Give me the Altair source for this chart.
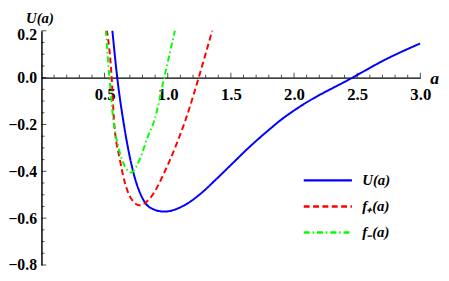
import altair as alt
import pandas as pd

# --- data ---
a_U = [0.561, 0.600, 0.647, 0.725, 0.803, 0.867, 0.972, 1.128, 1.257, 1.387, 1.517, 1.647, 1.777, 1.907, 2.037, 2.463, 2.726, 3.0]
U_vals = [0.204, 0.0, -0.181, -0.399, -0.518, -0.557, -0.572, -0.546, -0.497, -0.432, -0.364, -0.296, -0.234, -0.176, -0.127, 0.0, 0.078, 0.146]

a_fp = [0.517, 0.556, 0.574, 0.621, 0.660, 0.712, 0.777, 0.867, 0.984, 1.062, 1.140, 1.245, 1.354]
fp_vals = [0.204, 0.0, -0.181, -0.350, -0.447, -0.518, -0.545, -0.510, -0.392, -0.294, -0.182, 0.0, 0.204]

a_fm = [0.509, 0.538, 0.569, 0.608, 0.647, 0.710, 0.777, 0.842, 0.894, 0.972, 1.058]
fm_vals = [0.204, 0.0, -0.181, -0.294, -0.363, -0.405, -0.350, -0.252, -0.182, 0.0, 0.204]

series_names = ["U(a)", "f\u208A(a)", "f\u208B(a)"]
series_colors = ["#0000ff", "#ff0000", "#00ff00"]
series_dashes = [[1, 0], [6, 3.5], [6, 3, 1.5, 3]]

x_major = [0.5, 1.0, 1.5, 2.0, 2.5, 3.0]
x_minor = [0.1, 0.2, 0.3, 0.4, 0.6, 0.7, 0.8, 0.9, 1.1, 1.2, 1.3, 1.4, 1.6, 1.7, 1.8, 1.9,
           2.1, 2.2, 2.3, 2.4, 2.6, 2.7, 2.8, 2.9]
y_major = [-0.8, -0.6, -0.4, -0.2, 0.0, 0.2]
y_minor = [-0.75, -0.7, -0.65, -0.55, -0.5, -0.45, -0.35, -0.3, -0.25, -0.15, -0.1, -0.05,
           0.05, 0.1, 0.15]

x_domain = [0.0, 3.0]
y_domain = [-0.8, 0.2]

W, H = 385, 238

rows = []
for name, xs, ys in zip(series_names, [a_U, a_fp, a_fm], [U_vals, fp_vals, fm_vals]):
    for i, (x, y) in enumerate(zip(xs, ys)):
        rows.append({"a": x, "U": y, "series": name, "order": i})
df = pd.DataFrame(rows)

FONT = "Liberation Serif, Times New Roman, serif"
x_axis_offset = -H * (0 - y_domain[0]) / (y_domain[1] - y_domain[0])


def xenc():
    return alt.X(
        "a:Q",
        scale=alt.Scale(domain=x_domain, nice=False, zero=False),
        axis=alt.Axis(
            values=x_major, format=".1f", grid=False, ticks=False, tickSize=0,
            offset=x_axis_offset, domainColor="black", domainWidth=1.5,
            labelFont=FONT, labelFontWeight="bold", labelFontSize=17, labelColor="black",
            labelPadding=9, labelFlush=False,
            title="a", titleFont=FONT, titleFontStyle="italic", titleFontWeight="bold",
            titleFontSize=18, titleX=399, titleY=6, titleAlign="center",
            titleBaseline="alphabetic", titleColor="black",
        ),
    )


def yenc():
    return alt.Y(
        "U:Q",
        scale=alt.Scale(domain=y_domain, nice=False, zero=False),
        axis=alt.Axis(
            values=y_major, format=".1f", grid=False, ticks=False, tickSize=0,
            domainColor="black", domainWidth=1.5,
            labelFont=FONT, labelFontWeight="bold", labelFontSize=16, labelColor="black",
            labelPadding=5, labelFlush=False,
            labelOffset={"condition": {"test": "datum.value > 0.15", "value": 4}, "value": 0},
            title="U(a)", titleFont=FONT, titleFontStyle="italic", titleFontWeight="bold",
            titleFontSize=15, titleAngle=0, titleX=-2, titleY=-13.5, titleAlign="center",
            titleBaseline="middle", titleColor="black",
        ),
    )


legend = alt.Legend(
    title=None, orient="none", legendX=265, legendY=142, padding=0,
    symbolType="stroke", symbolSize=2401, symbolStrokeWidth=2.5,
    clipHeight=20, rowPadding=6.5, labelOffset=9,
    labelFont=FONT, labelFontStyle="italic", labelFontWeight="bold",
    labelFontSize=15, labelColor="black",
)

lines = alt.Chart(df).mark_line(strokeWidth=2, interpolate="monotone", clip=True).encode(
    x=xenc(),
    y=yenc(),
    color=alt.Color("series:N", scale=alt.Scale(domain=series_names, range=series_colors), legend=legend),
    strokeDash=alt.StrokeDash("series:N", scale=alt.Scale(domain=series_names, range=series_dashes), legend=legend),
    order="order:Q",
)

xt = pd.DataFrame(
    [{"a": v, "U": 0.0, "len": 5} for v in x_major] + [{"a": v, "U": 0.0, "len": 3} for v in x_minor]
)
yt = pd.DataFrame(
    [{"a": 0.0, "U": v, "len": 5} for v in y_major] + [{"a": 0.0, "U": v, "len": 3} for v in y_minor]
)

xticks_major = alt.Chart(xt[xt["len"] == 5]).mark_tick(
    orient="vertical", size=5, thickness=1, yOffset=-2.5, color="black"
).encode(x=xenc(), y=yenc())
xticks_minor = alt.Chart(xt[xt["len"] == 3]).mark_tick(
    orient="vertical", size=3, thickness=1, yOffset=-1.5, color="black"
).encode(x=xenc(), y=yenc())
yticks_major = alt.Chart(yt[yt["len"] == 5]).mark_tick(
    orient="horizontal", size=5, thickness=1, xOffset=2.5, color="black"
).encode(x=xenc(), y=yenc())
yticks_minor = alt.Chart(yt[yt["len"] == 3]).mark_tick(
    orient="horizontal", size=3, thickness=1, xOffset=1.5, color="black"
).encode(x=xenc(), y=yenc())

chart = alt.layer(lines, xticks_major, xticks_minor, yticks_major, yticks_minor).properties(
    width=W, height=H,
    autosize=alt.AutoSizeParams(type="none"),
    padding={"left": 34, "top": 21, "right": 21, "bottom": 8},
    background="white",
).configure_view(strokeWidth=0)

chart.save("out.html", embed_options={"renderer": "svg", "actions": False})
